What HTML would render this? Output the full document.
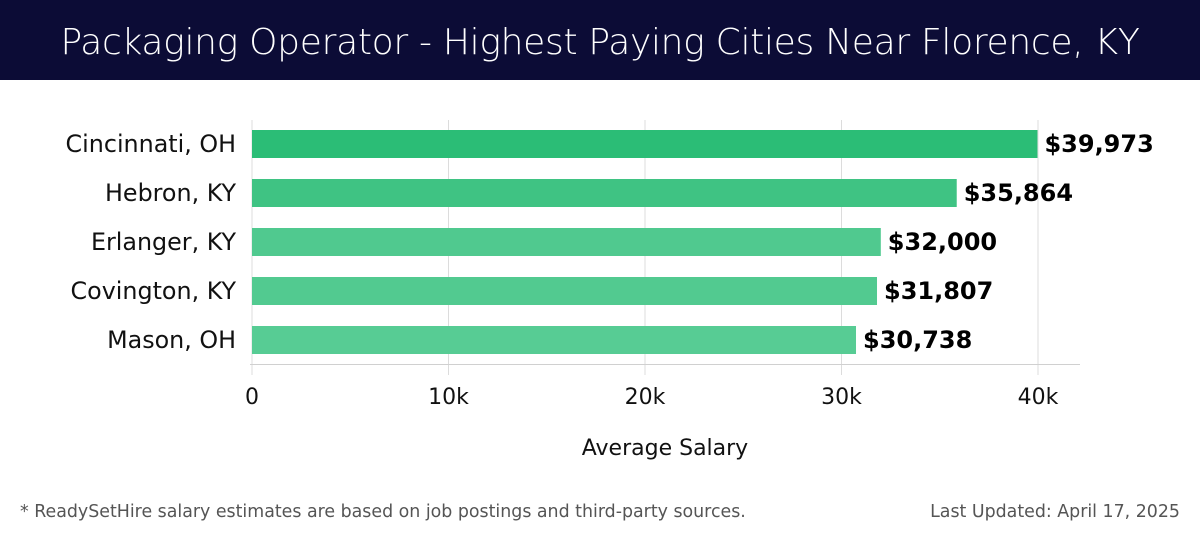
<!DOCTYPE html>
<html><head><meta charset="utf-8"><style>
body{margin:0;width:1200px;height:540px;background:#fff;font-family:"DejaVu Sans","Liberation Sans",sans-serif;overflow:hidden}
#title{position:absolute;left:0;top:0;width:1200px;height:80px;background:#0c0c36;color:#fff;font-size:36px;text-align:center;line-height:86px;font-family:"DejaVu Sans","Liberation Sans",sans-serif;font-weight:300;letter-spacing:-0.3px}
.foot{position:absolute;top:502px;font-size:17.4px;color:#555;font-family:"DejaVu Sans","Liberation Sans",sans-serif}
</style></head><body>
<div id="title">Packaging Operator - Highest Paying Cities Near Florence, KY</div>
<svg id="chart" width="1200" height="540" style="position:absolute;left:0;top:0;font-family:'DejaVu Sans','Liberation Sans',sans-serif"></svg>
<div class="foot" style="left:20px">* ReadySetHire salary estimates are based on job postings and third-party sources.</div>
<div class="foot" style="right:20px">Last Updated: April 17, 2025</div>
<script>
const categories=["Cincinnati, OH","Hebron, KY","Erlanger, KY","Covington, KY","Mason, OH"];
const values=[39973,35864,32000,31807,30738];
const valueLabels=["$39,973","$35,864","$32,000","$31,807","$30,738"];
const ticks=[0,10000,20000,30000,40000];
const tickLabels=["0","10k","20k","30k","40k"];
const colors=["#2bbd76","#3fc383","#50c98f","#52ca90","#57cc94"];
const NS="http://www.w3.org/2000/svg";
const svg=document.getElementById('chart');
const x0=252,x1=1038,xmax=40000;
const x=v=>x0+(x1-x0)*v/xmax;
const y=i=>130+i*49, bh=28;
function mk(t,a){const e=document.createElementNS(NS,t);for(const k in a)e.setAttribute(k,a[k]);svg.appendChild(e);return e;}
ticks.forEach((t,i)=>{
 const g=mk('line',{x1:x(t),x2:x(t),y1:120,y2:375,stroke:'#dcdcdc','stroke-width':1});
 
 
 const l=mk('text',{x:x(t),y:404,'text-anchor':'middle','font-size':22,fill:'#111'});
 l.textContent=tickLabels[i];
 
 
});
const ax=mk('line',{x1:250,x2:1080,y1:364.5,y2:364.5,stroke:'#d0d0d0','stroke-width':1});


categories.forEach((c,i)=>{
 const r=mk('rect',{x:x0,y:y(i),width:x(values[i])-x0,height:bh,fill:colors[i]});
 
 
 const cl=mk('text',{x:236,y:y(i)+bh/2+8,'text-anchor':'end','font-size':23.8,fill:'#111'});
 cl.textContent=c;
 
 
 const vl=mk('text',{x:x(values[i])+7,y:y(i)+bh/2+8,'font-size':24,'font-weight':'bold',fill:'#000'});
 vl.textContent=valueLabels[i];
 
 
});
const xt=mk('text',{x:665,y:455,'text-anchor':'middle','font-size':22,fill:'#111'});
xt.textContent='Average Salary';


</script>
</body></html>
